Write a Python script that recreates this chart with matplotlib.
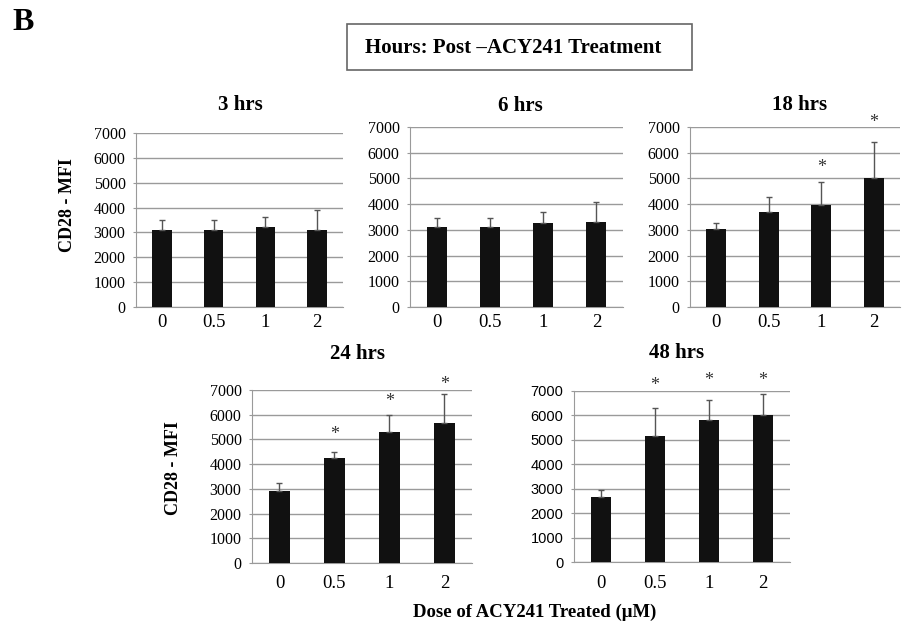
import matplotlib
matplotlib.use('Agg')
import matplotlib.pyplot as plt
from matplotlib.patches import Rectangle

doses = ["0", "0.5", "1", "2"]
titles = ["3 hrs", "6 hrs", "18 hrs", "24 hrs", "48 hrs"]

mfi_3h = [3100, 3100, 3200, 3100]
err_3h = [380, 380, 430, 800]
mfi_6h = [3100, 3100, 3270, 3300]
err_6h = [370, 380, 430, 800]
mfi_18h = [3020, 3680, 3980, 5020]
err_18h = [230, 590, 870, 1410]
mfi_24h = [2920, 4250, 5300, 5650]
err_24h = [330, 250, 700, 1170]
mfi_48h = [2650, 5150, 5820, 6030]
err_48h = [300, 1170, 820, 860]

# height of the significance stars (None = no star)
star_18h = [None, None, 5600, 7350]
star_24h = [None, 5380, 6730, 7430]
star_48h = [None, 7410, 7610, 7610]
star_none = [None, None, None, None]

means = [mfi_3h, mfi_6h, mfi_18h, mfi_24h, mfi_48h]
errs = [err_3h, err_6h, err_18h, err_24h, err_48h]
stars = [star_none, star_none, star_18h, star_24h, star_48h]

W, H = 902, 625
# pixel boxes: left, top, right, bottom
boxes = [(136, 133, 343, 307),
		 (410, 127, 623, 307),
		 (690, 127, 900, 307),
		 (252, 390, 472, 563),
		 (574, 391, 790, 562)]
# title centres in pixels
title_pos = [(240, 105), (520, 106), (800, 105), (357, 354), (677, 353)]
xpads = [5, 5, 5, 9, 9]

serif = "Liberation Serif"
grid_col = "#9a9a9a"

def fx(x):
	return x / W

def fy(y):
	return 1 - y / H

fig = plt.figure(figsize=(W / 100, H / 100), dpi=100)

for i in range(5):
	l, t, r, b = boxes[i]
	ax = fig.add_axes([fx(l), fy(b), (r - l) / W, (b - t) / H])
	xs = range(len(doses))
	ax.bar(xs, means[i], width=0.38, color="#111111", zorder=3)
	ax.errorbar(xs, means[i], yerr=[[0] * 4, errs[i]], fmt="none",
				ecolor="#555555", elinewidth=1.0, capsize=2.5, capthick=1.0, zorder=4)
	for x, s in zip(xs, stars[i]):
		if s is not None:
			ax.annotate("*", (x, s), xytext=(0, -3.5), textcoords="offset points",
						ha="center", va="center", fontsize=13, family=serif,
						color="#333333", annotation_clip=False)
	ax.set_xlim(-0.5, 3.5)
	ax.set_ylim(0, 7000)
	ax.set_yticks(range(0, 7001, 1000))
	ax.set_xticks(list(xs), doses)
	ax.yaxis.grid(True, color=grid_col, linewidth=1.0, zorder=0)
	ax.set_axisbelow(True)
	for sp in ["top", "right"]:
		ax.spines[sp].set_visible(False)
	ax.spines["left"].set_color(grid_col)
	ax.spines["bottom"].set_color(grid_col)
	ax.tick_params(axis="y", length=2.5, color=grid_col, pad=5,
				   labelsize=10.5 if i == 4 else 11.5)
	ax.tick_params(axis="x", length=0, pad=xpads[i], labelsize=13.5)
	for lab in ax.get_xticklabels():
		lab.set_family(serif)
	for lab in ax.get_yticklabels():
		lab.set_family("Liberation Sans" if i == 4 else serif)
	tx, ty = title_pos[i]
	fig.text(fx(tx), fy(ty), titles[i], fontsize=15, fontweight="bold", family=serif,
			 ha="center", va="center")

fig.text(fx(67), fy(205), "CD28 - MFI", rotation=90, fontsize=13, fontweight="bold",
		 family=serif, ha="center", va="center")
fig.text(fx(173), fy(468), "CD28 - MFI", rotation=90, fontsize=13, fontweight="bold",
		 family=serif, ha="center", va="center")

fig.text(fx(12), fy(23), "B", fontsize=23, fontweight="bold", family=serif,
		 ha="left", va="center")
fig.patches.append(Rectangle((fx(347), fy(70)), (692 - 347) / W, (70 - 24) / H,
							 transform=fig.transFigure, facecolor="white",
							 edgecolor="#666666", linewidth=1.2))
fig.text(fx(513), fy(48), "Hours: Post \u2013ACY241 Treatment", fontsize=15,
		 fontweight="bold", family=serif, ha="center", va="center")
fig.text(fx(535), fy(612), "Dose of ACY241 Treated (\u03bcM)", fontsize=13.5,
		 fontweight="bold", family=serif, ha="center", va="center")

fig.savefig("out.png", dpi=100)
